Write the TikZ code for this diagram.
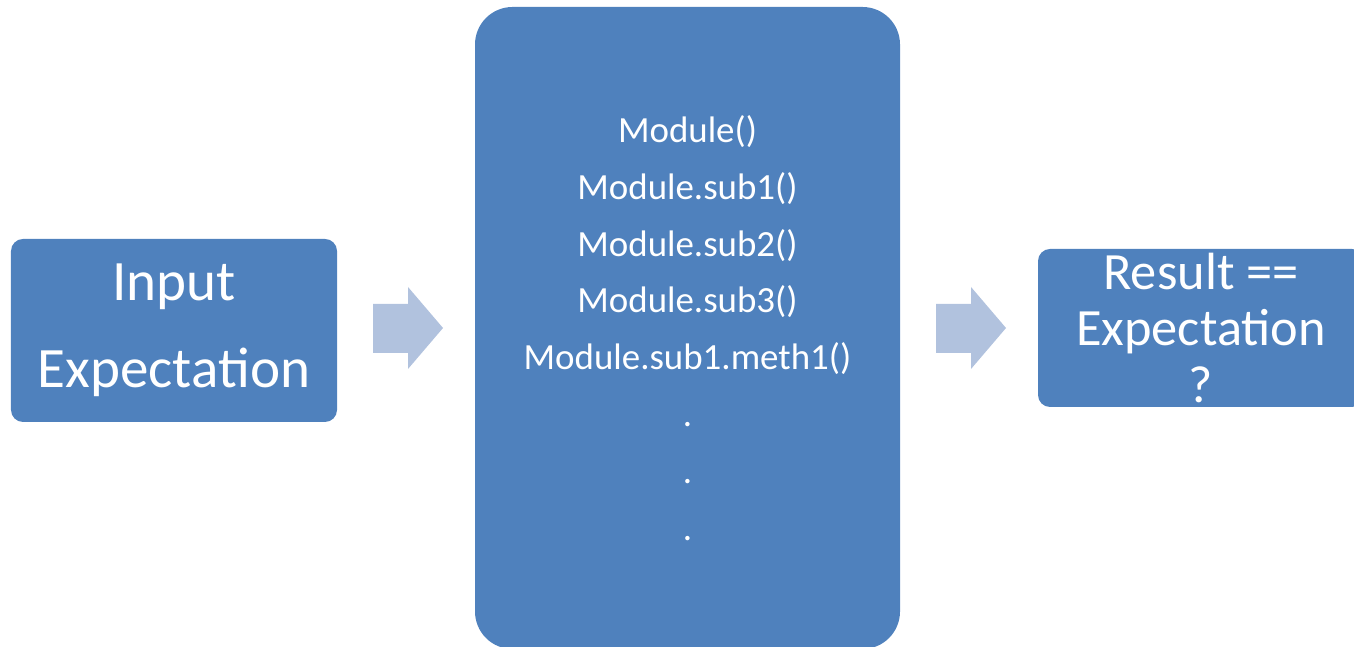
\documentclass[tikz,border=0pt]{standalone}
\usepackage{fontspec}
\setmainfont{Carlito}
\definecolor{boxblue}{RGB}{79,129,189}
\definecolor{arrowblue}{RGB}{177,194,222}
\begin{document}
\begin{tikzpicture}[box/.style={fill=boxblue,text=white,rounded corners=0.24cm,align=center,inner sep=0pt},
  blockarrow/.style={fill=arrowblue}]
  \useasboundingbox (0,0) rectangle (27.08,12.94);
  \node[box,minimum width=6.52cm,minimum height=3.66cm,font=\fontsize{32.5}{49.3}\selectfont] (input) at (3.48,6.33) {Input\\Expectation};
  \node[box,rounded corners=0.75cm,minimum width=8.5cm,minimum height=12.84cm,font=\fontsize{21}{32.3}\selectfont] (module) at (13.75,6.38)
    {Module()\\Module.sub1()\\Module.sub2()\\Module.sub3()\\Module.sub1.meth1()\\.\\.\\.};
  \node[box,minimum width=6.52cm,minimum height=3.16cm,font=\fontsize{29.8}{32.3}\selectfont] (result) at (24.02,6.38) {Result ==\\Expectation\\?};
  % block arrows between the boxes
  \fill[blockarrow] (7.46,6.86) -- (8.16,6.86) -- (8.16,7.20) -- (8.86,6.38) -- (8.16,5.56) -- (8.16,5.88) -- (7.46,5.88) -- cycle;
  \fill[blockarrow] (18.72,6.86) -- (19.42,6.86) -- (19.42,7.20) -- (20.12,6.38) -- (19.42,5.56) -- (19.42,5.88) -- (18.72,5.88) -- cycle;
\end{tikzpicture}
\end{document}
